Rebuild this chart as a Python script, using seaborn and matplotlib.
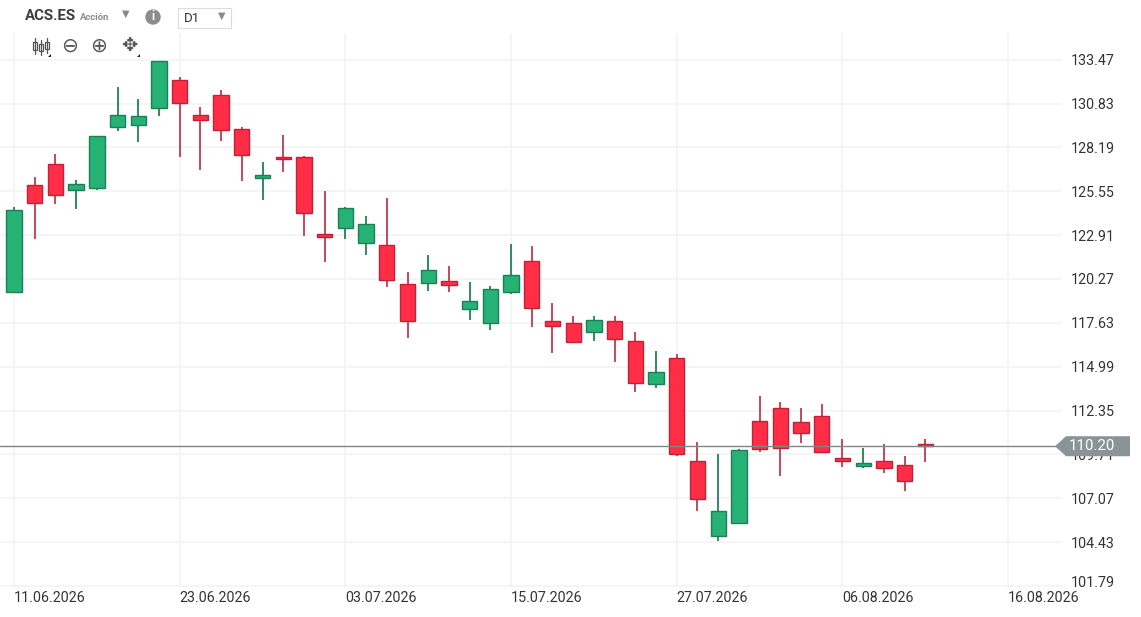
import seaborn as sns
import matplotlib.pyplot as plt
import matplotlib.transforms as mtransforms
from matplotlib.patches import Polygon, Rectangle, Circle
from matplotlib.lines import Line2D
import numpy as np

# daily candles ACS.ES (trading-day index)
opens = [119.50, 125.93, 127.19, 125.61, 125.76, 129.44, 129.52, 130.58, 132.25, 130.14,
         131.34, 129.32, 126.35, 127.64, 127.64, 122.99, 123.34, 122.45, 122.31, 119.95,
         120.03, 120.13, 118.45, 117.62, 119.50, 121.34, 117.71, 117.64, 117.09, 117.73,
         116.53, 113.93, 115.52, 109.31, 104.78, 105.58, 111.72, 112.53, 111.63, 112.01,
         109.50, 108.98, 109.31, 109.04, 110.32]
highs = [124.58, 126.39, 127.77, 126.23, 128.90, 131.81, 131.09, 133.42, 132.41, 130.60,
         131.65, 129.40, 127.29, 128.95, 127.66, 125.57, 124.60, 124.08, 125.17, 120.66,
         121.72, 121.04, 120.07, 119.83, 122.36, 122.24, 118.85, 118.03, 118.03, 118.03,
         117.05, 115.93, 115.78, 110.44, 109.76, 110.06, 113.24, 112.84, 112.48, 112.77,
         110.66, 110.10, 110.36, 109.60, 110.66]
lows = [119.45, 122.66, 124.76, 124.46, 125.61, 129.20, 128.52, 130.09, 127.63, 126.80,
        128.59, 126.19, 125.05, 126.73, 122.87, 121.29, 122.66, 121.69, 119.80, 116.72,
        119.55, 119.49, 117.78, 117.18, 119.35, 117.40, 115.81, 116.39, 116.55, 115.26,
        113.48, 113.69, 109.64, 106.28, 104.52, 105.55, 109.86, 108.41, 110.39, 109.80,
        108.95, 108.88, 108.59, 107.53, 109.26]
closes = [124.42, 124.86, 125.32, 125.99, 128.88, 130.14, 130.08, 133.39, 130.85, 129.82,
          129.22, 127.71, 126.50, 127.48, 124.26, 122.81, 124.52, 123.60, 120.21, 117.71,
          120.80, 119.88, 118.94, 119.67, 120.51, 118.54, 117.42, 116.49, 117.78, 116.64,
          114.01, 114.64, 109.72, 107.04, 106.28, 109.96, 110.02, 110.10, 111.00, 109.88,
          109.29, 109.22, 108.91, 108.08, 110.20]

date_labels = ["11.06.2026", "23.06.2026", "03.07.2026", "15.07.2026",
               "27.07.2026", "06.08.2026", "16.08.2026"]
price_ticks = [101.79, 104.43, 107.07, 109.71, 112.35, 114.99, 117.63,
               120.27, 122.91, 125.55, 128.19, 130.83, 133.47]
last_price = 110.20

W, H = 1141, 617
sns.set_theme(style="white")
plt.rcParams['font.family'] = ['Roboto', 'DejaVu Sans']

fig = plt.figure(figsize=(W / 100, H / 100), dpi=100)
ax = fig.add_axes([0, 1 - 587 / H, 1062 / W, (587 - 33) / H])


def fx(x):
    return x / W


def fy(y):
    return 1 - y / H


x = np.arange(len(opens))
o = np.array(opens)
c = np.array(closes)
up = c >= o

green, green_edge, green_wick = "#26b175", "#1d7f55", "#2f8a63"
red, red_edge, red_wick = "#ff2e46", "#c41f37", "#c44a5a"

ax.vlines(x[up], np.array(lows)[up], np.array(highs)[up], color=green_wick, lw=1.4, zorder=2)
ax.vlines(x[~up], np.array(lows)[~up], np.array(highs)[~up], color=red_wick, lw=1.4, zorder=2)
ax.bar(x[up], (c - o)[up], bottom=o[up], width=0.74, color=green,
       edgecolor=green_edge, linewidth=1.0, zorder=3)
ax.bar(x[~up], (o - c)[~up], bottom=c[~up], width=0.74, color=red,
       edgecolor=red_edge, linewidth=1.0, zorder=3)

ax.set_xlim(-0.676, 50.6)
ax.set_ylim(101.725, 135.077)

ax.set_xticks(np.arange(0, 49, 8))
ax.set_xticklabels(date_labels, ha="left", fontsize=10.3, color="#333333")
ax.set_yticks(price_ticks)
ax.set_yticklabels([f"{v:.2f}" for v in price_ticks], fontsize=10.3, color="#333333")
ax.yaxis.tick_right()
ax.tick_params(axis="both", length=0)
ax.tick_params(axis="y", pad=6)
ax.tick_params(axis="x", pad=3)
ax.grid(True, color="#f0f2f4", lw=1.1, zorder=0)
ax.set_axisbelow(True)
for s in ax.spines.values():
    s.set_visible(False)

# lowest price label sits a bit higher, like the platform does
lbl = ax.get_yticklabels()[0]
lbl.set_transform(lbl.get_transform() + mtransforms.ScaledTranslation(0, 4 / 100, fig.dpi_scale_trans))

# current price line and tag
ax.axhline(last_price, color="#7f8588", lw=1.0, zorder=4)
fig.canvas.draw()
yp = ax.transData.transform((0, last_price))[1]
y_img = H - yp
tag = Polygon([(fx(1055), fy(y_img)), (fx(1066), fy(y_img - 10)), (fx(1130), fy(y_img - 10)),
               (fx(1130), fy(y_img + 10)), (fx(1066), fy(y_img + 10))],
              closed=True, transform=fig.transFigure, facecolor="#8a9396", edgecolor="none", zorder=10)
fig.add_artist(tag)
fig.text(fx(1069), fy(y_img), f"{last_price:.2f}", color="white", fontsize=10.8,
         va="center", ha="left", zorder=11)

# header
fig.text(fx(25), fy(16), "ACS.ES", fontsize=10.8, fontweight="bold", color="#3c4043", va="center")
fig.text(fx(80), fy(17), "Acción", fontsize=6.8, fontweight="bold", color="#8a8a8a", va="center")
fig.text(fx(126), fy(14), "▼", fontsize=7, color="#8a8a8a", va="center", ha="center")
fig.add_artist(Circle((153 / 100, (H - 17) / 100), 0.07, transform=fig.dpi_scale_trans,
                      color="#8c8c8c"))
fig.text(fx(153), fy(17), "i", fontsize=8.5, fontweight="bold", color="white", va="center", ha="center")
fig.add_artist(Rectangle((fx(178), fy(28)), 53 / W, 20 / H, transform=fig.transFigure,
                         facecolor="white", edgecolor="#dcdcdc", lw=0.8))
fig.text(fx(184), fy(18.5), "D1", fontsize=9.5, color="#333333", va="center")
fig.text(fx(222), fy(16), "▼", fontsize=7, color="#8a8a8a", va="center", ha="center")

# toolbar
icon = "#555555"
for cx, top, bot, b0, b1 in [(35, 38, 54, 42, 50), (41, 40, 55, 44, 51), (47, 38, 53, 42, 49)]:
    fig.add_artist(Line2D([fx(cx), fx(cx)], [fy(top), fy(bot)], transform=fig.transFigure,
                          color=icon, lw=0.9))
    fig.add_artist(Rectangle((fx(cx - 1.8), fy(b1)), 3.6 / W, (b1 - b0) / H,
                             transform=fig.transFigure, facecolor="white", edgecolor=icon, lw=0.9))
fig.text(fx(70), fy(46), "⊖", fontsize=14.5, color=icon, va="center", ha="center")
fig.text(fx(99), fy(46), "⊕", fontsize=14.5, color=icon, va="center", ha="center")
fig.text(fx(129), fy(46), "✥", fontsize=14, color=icon, va="center", ha="center")
for tx in (51, 140):
    fig.add_artist(Polygon([(fx(tx - 3), fy(57)), (fx(tx), fy(57)), (fx(tx), fy(54))],
                           closed=True, transform=fig.transFigure, facecolor="#222222",
                           edgecolor="none"))

fig.savefig("out.png", dpi=100)
